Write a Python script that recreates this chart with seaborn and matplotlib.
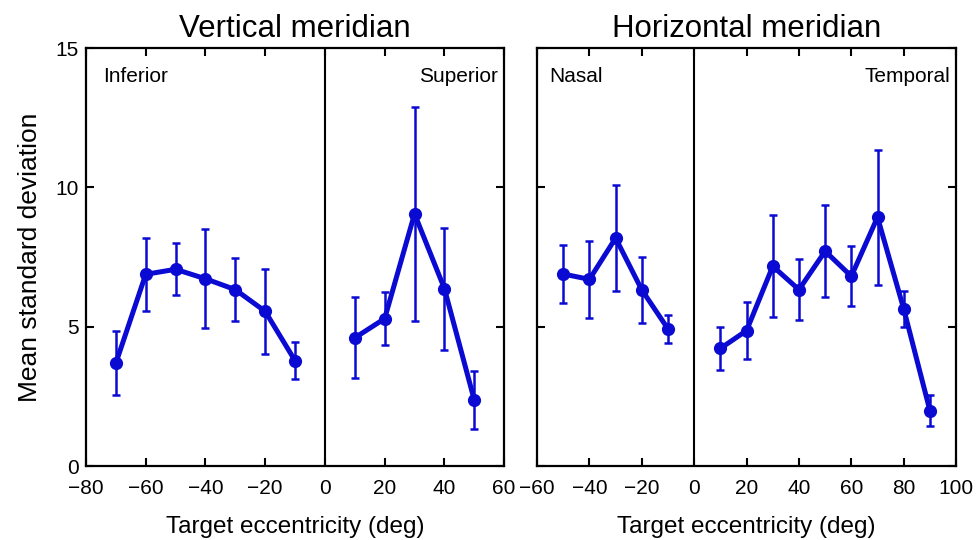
import numpy as np
import pandas as pd
import matplotlib
matplotlib.use("Agg")
import matplotlib.pyplot as plt
import seaborn as sns

# Vertical meridian
inf_x = [-70, -60, -50, -40, -30, -20, -10]
inf_y = [3.69, 6.88, 7.06, 6.72, 6.33, 5.55, 3.78]
inf_err = [1.14, 1.31, 0.93, 1.78, 1.14, 1.53, 0.66]
sup_x = [10, 20, 30, 40, 50]
sup_y = [4.60, 5.29, 9.05, 6.37, 2.37]
sup_err = [1.45, 0.94, 3.84, 2.19, 1.04]

# Horizontal meridian
nas_x = [-50, -40, -30, -20, -10]
nas_y = [6.89, 6.70, 8.18, 6.32, 4.92]
nas_err = [1.05, 1.38, 1.90, 1.19, 0.51]
tem_x = [10, 20, 30, 40, 50, 60, 70, 80, 90]
tem_y = [4.22, 4.86, 7.17, 6.33, 7.71, 6.81, 8.93, 5.64, 1.99]
tem_err = [0.77, 1.01, 1.83, 1.09, 1.64, 1.07, 2.42, 0.65, 0.55]

blue = "#0A0AD2"

sns.set_style("ticks")
plt.rcParams["font.family"] = ["Liberation Sans", "DejaVu Sans"]
plt.rcParams["text.color"] = "black"
plt.rcParams["axes.labelcolor"] = "black"
plt.rcParams["xtick.color"] = "black"
plt.rcParams["ytick.color"] = "black"
plt.rcParams["axes.edgecolor"] = "black"

fig = plt.figure(figsize=(9.77, 5.4), dpi=100)
ax1 = fig.add_axes([0.088, 0.137, 0.428, 0.774])
ax2 = fig.add_axes([0.5497, 0.137, 0.4289, 0.774])


def segment(ax, xs, ys, errs):
    df = pd.DataFrame({"x": xs, "y": ys})
    ax.errorbar(xs, ys, yerr=errs, fmt="none", ecolor=blue, elinewidth=1.8,
                capsize=3, capthick=1.8, zorder=2)
    sns.lineplot(data=df, x="x", y="y", ax=ax, color=blue, lw=3.6,
                 marker="o", markersize=9.5, markeredgewidth=0, zorder=3)


segment(ax1, inf_x, inf_y, inf_err)
segment(ax1, sup_x, sup_y, sup_err)
segment(ax2, nas_x, nas_y, nas_err)
segment(ax2, tem_x, tem_y, tem_err)

for ax, xlim in [(ax1, (-80, 60)), (ax2, (-60, 100))]:
    ax.set_xlim(*xlim)
    ax.set_ylim(0, 15)
    ax.axvline(0, color="black", lw=1.5, zorder=1)
    ax.set_xticks(np.arange(xlim[0], xlim[1] + 1, 20))
    ax.set_yticks([0, 5, 10, 15])
    ax.tick_params(direction="in", length=6, width=1.5, top=True, right=True,
                   labelsize=15, pad=5)
    ax.tick_params(axis="x", pad=9)
    for s in ax.spines.values():
        s.set_linewidth(1.6)
        s.set_color("black")
    ax.set_xlabel("Target eccentricity (deg)", fontsize=17.5, labelpad=13)

ax1.set_ylabel("Mean standard deviation", fontsize=19, labelpad=10)
ax2.set_ylabel("")
ax2.set_yticklabels([])

ax1.set_title("Vertical meridian", fontsize=22.5, pad=8)
ax2.set_title("Horizontal meridian", fontsize=22.5, pad=8)

ax1.text(0.04, 0.955, "Inferior", transform=ax1.transAxes, fontsize=15, va="top")
ax1.text(0.985, 0.955, "Superior", transform=ax1.transAxes, fontsize=15, va="top", ha="right")
ax2.text(0.03, 0.955, "Nasal", transform=ax2.transAxes, fontsize=15, va="top")
ax2.text(0.985, 0.955, "Temporal", transform=ax2.transAxes, fontsize=15, va="top", ha="right")

fig.savefig("out.png", dpi=100)
